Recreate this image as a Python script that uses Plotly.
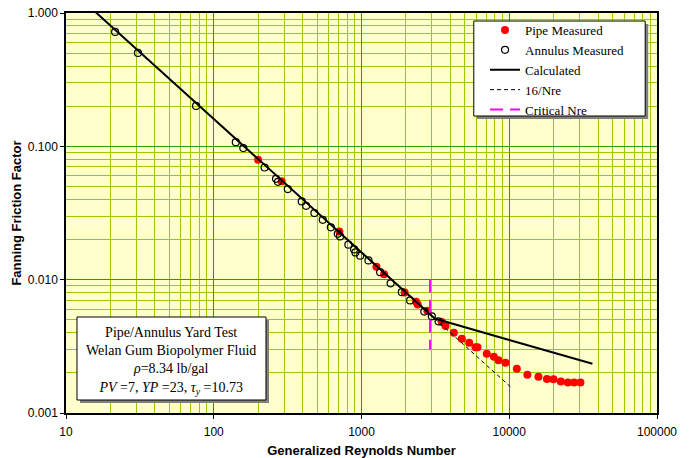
import plotly.graph_objects as go

# ---------------- data ----------------
pipe_nre = [199.5, 288, 708, 1262, 1422, 1959, 2344, 2399, 2793, 3500, 3702,
            4218, 4776, 5355, 5905, 6095, 7047, 7870, 8455, 9427, 11250,
            13270, 15770, 17990, 19920, 22340, 24930, 27490, 30330]
pipe_f = [0.0792, 0.0548, 0.0230, 0.0125, 0.01096, 0.00802, 0.00684, 0.0065,
          0.00584, 0.00482, 0.0045, 0.00399, 0.0036, 0.00336, 0.00311, 0.00311,
          0.00278, 0.00264, 0.00249, 0.00238, 0.00215, 0.00194, 0.00187,
          0.0018, 0.00179, 0.00172, 0.00169, 0.00169, 0.00169]

ann_nre = [21.5, 30.7, 75.9, 141, 158.6, 221, 264, 272, 317, 394, 422, 480,
           547, 620, 691, 716, 815, 891, 910, 979, 1115, 1337, 1574, 1875,
           2133, 2661, 2992, 3327]
ann_f = [0.721, 0.502, 0.201, 0.1075, 0.097, 0.0694, 0.0571, 0.0542, 0.0478,
         0.0386, 0.0358, 0.0316, 0.0281, 0.0247, 0.0221, 0.0211, 0.0183,
         0.01686, 0.0160, 0.01513, 0.01395, 0.01138, 0.00938, 0.00806,
         0.00699, 0.00576, 0.00531, 0.00486]

calc_nre = [15.1, 100, 1000, 3130, 10000, 36560]
calc_f = [1.066, 0.16, 0.016, 0.00511, 0.00353, 0.00234]

lam_nre = [3130, 10400]
lam_f = [0.00511, 0.00154]

crit_nre = [2910, 2910]
crit_f = [0.01, 0.003]

x_tickvals = [10, 100, 1000, 10000, 100000]
x_ticktext = ["10", "100", "1000", "10000", "100000"]
y_tickvals = [0.001, 0.01, 0.1, 1.0]
y_ticktext = ["0.001", "0.010", "0.100", "1.000"]

# ---------------- figure ----------------
SERIF = "Liberation Serif, Times New Roman, serif"
SANS = "Liberation Sans, Arial, sans-serif"

fig = go.Figure()
fig.add_trace(go.Scatter(x=pipe_nre, y=pipe_f, mode="markers", name="Pipe Measured",
                         marker=dict(color="#FF0000", size=8, symbol="circle",
                                     line=dict(width=0))))
fig.add_trace(go.Scatter(x=ann_nre, y=ann_f, mode="markers", name="Annulus Measured",
                         marker=dict(color="#000000", size=7, symbol="circle-open",
                                     line=dict(width=1.2, color="#000000"))))
fig.add_trace(go.Scatter(x=calc_nre, y=calc_f, mode="lines", name="Calculated",
                         line=dict(color="#000000", width=2)))
fig.add_trace(go.Scatter(x=lam_nre, y=lam_f, mode="lines", name="16/Nre",
                         line=dict(color="#000000", width=1, dash="4px,3px")))
fig.add_trace(go.Scatter(x=crit_nre, y=crit_f, mode="lines", name="Critical Nre",
                         line=dict(color="#FF00FF", width=2, dash="13px,7px")))

minor_vals = [m * 10 ** e for e in range(-3, 6) for m in range(2, 10)]

axis_common = dict(
    type="log", showline=True, linecolor="#000000", linewidth=1.5, mirror=True,
    ticks="outside", ticklen=4, tickcolor="#000000",
    showgrid=True, gridcolor="#339900", gridwidth=1,
    tickfont=dict(family=SANS, size=12, color="#000000"),
    zeroline=False, automargin=False,
)

fig.update_xaxes(**axis_common, range=[1, 5], tickvals=x_tickvals, ticktext=x_ticktext,
                 ticklabelstandoff=3,
                 minor=dict(tickvals=minor_vals, showgrid=True, gridcolor="#99CC00",
                            gridwidth=1, ticks=""),
                 title=dict(text="<b>Generalized Reynolds Number</b>",
                            font=dict(family=SANS, size=13, color="#000000"), standoff=8))
fig.update_yaxes(**axis_common, range=[-3, 0], tickvals=y_tickvals, ticktext=y_ticktext,
                 minor=dict(tickvals=minor_vals, showgrid=True, gridcolor="#99CC00",
                            gridwidth=1, ticks=""),
                 title=dict(text="<b>Fanning Friction Factor</b>",
                            font=dict(family=SANS, size=13, color="#000000"), standoff=3))

shapes = [
    # legend box shadow + box
    dict(type="rect", xref="paper", yref="paper", x0=0.6951, x1=0.9851, y0=0.735, y1=0.9725,
         fillcolor="#808080", line=dict(width=0), layer="above"),
    dict(type="rect", xref="paper", yref="paper", x0=0.690, x1=0.980, y0=0.7425, y1=0.980,
         fillcolor="#FFFFFF", line=dict(color="#000000", width=1), layer="above"),
    # text box shadow + box
    dict(type="rect", xref="paper", yref="paper", x0=0.0237, x1=0.3435, y0=0.025, y1=0.2325,
         fillcolor="#808080", line=dict(width=0), layer="above"),
    dict(type="rect", xref="paper", yref="paper", x0=0.0186, x1=0.3384, y0=0.0325, y1=0.24,
         fillcolor="#FFFFFF", line=dict(color="#000000", width=1), layer="above"),
]

box_text = ("Pipe/Annulus Yard Test<br>Welan Gum Biopolymer Fluid<br>"
            "<i>ρ</i>=8.34 lb/gal<br>"
            "<i>PV</i> =7, <i>YP</i> =23, <i>τ<sub>y</sub></i> =10.73")

fig.update_layout(
    width=694, height=458,
    margin=dict(l=66, r=37, t=13, b=45, pad=0, autoexpand=False),
    paper_bgcolor="#FFFFFF", plot_bgcolor="#FFFFCC",
    shapes=shapes,
    annotations=[dict(text=box_text, xref="paper", yref="paper", x=0.1785, y=0.13,
                      xanchor="center", yanchor="middle", showarrow=False, align="center",
                      font=dict(family=SERIF, size=14, color="#000000"))],
    legend=dict(x=0.709, y=0.995, xanchor="left", yanchor="top",
                bgcolor="rgba(0,0,0,0)", borderwidth=0,
                font=dict(family=SERIF, size=13, color="#000000"),
                tracegroupgap=0),
    showlegend=True,
)

fig.write_html("out.html")
